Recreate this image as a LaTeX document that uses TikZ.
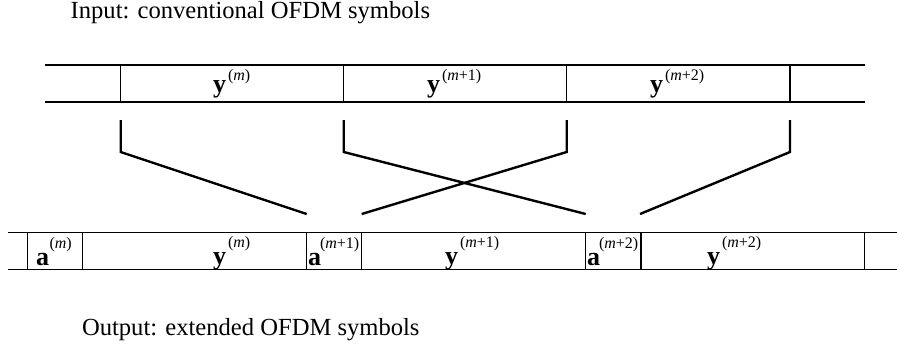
\documentclass[tikz,border=0pt]{standalone}
\usepackage{fontspec}
\setmainfont{Liberation Serif}
\newcommand{\mainfs}{\fontsize{24.6pt}{28pt}\selectfont}
\newcommand{\symlbl}[4]{{\fontsize{26pt}{28pt}\selectfont\bfseries #1}\hspace{#3}\raisebox{#4}{\fontsize{16pt}{18pt}\selectfont #2}}
\tikzset{
  rowline/.style={line width=1.6pt},
  divider/.style={line width=1.3pt},
  conn/.style={line width=2.4pt, line cap=butt, line join=miter},
  lbl/.style={anchor=base west, inner sep=0pt, outer sep=0pt},
  title/.style={anchor=base west, inner sep=0pt, outer sep=0pt, font=\mainfs}
}
\begin{document}
\begin{tikzpicture}[x=1pt,y=-1pt]
\useasboundingbox (0,0) rectangle (897,348);
% titles
\node[title] (intitle) at (70.7,18.5) {Input: conventional OFDM symbols};
\node[title] (outtitle) at (82,335) {Output: extended OFDM symbols};
% top row
\coordinate (tl) at (45,64.7);
\coordinate (tr) at (865,64.7);
\coordinate (bl) at (45,102);
\coordinate (br) at (865,102);
\draw[rowline] (tl) -- (tr);
\draw[rowline] (bl) -- (br);
\foreach \x/\n in {120.7/1,343.7/2,566.7/3,790/4}{
  \coordinate (td\n a) at (\x,64.7);
  \coordinate (td\n b) at (\x,102);
  \draw[divider] (td\n a) -- (td\n b);
}
\node[lbl] (ty0) at (213,92) {\symlbl{y}{(\textit{m})}{2pt}{11.5pt}};
\node[lbl] (ty1) at (427,92) {\symlbl{y}{(\textit{m}+1)}{2pt}{11.5pt}};
\node[lbl] (ty2) at (650,92) {\symlbl{y}{(\textit{m}+2)}{2pt}{11.5pt}};
% bottom row
\coordinate (Btl) at (8,232.3);
\coordinate (Btr) at (897,232.3);
\coordinate (Bbl) at (8,269.3);
\coordinate (Bbr) at (897,269.3);
\draw[rowline] (Btl) -- (Btr);
\draw[rowline] (Bbl) -- (Bbr);
\foreach \x/\n in {27.7/1,82.7/2,306.7/3,361.7/4,585.7/5,641/6,864.3/7}{
  \coordinate (bd\n a) at (\x,232.3);
  \coordinate (bd\n b) at (\x,269.3);
  \draw[divider] (bd\n a) -- (bd\n b);
}
\node[lbl] (ba0) at (36,265) {\symlbl{a}{(\textit{m})}{0.5pt}{17pt}};
\node[lbl] (by0) at (213,264) {\symlbl{y}{(\textit{m})}{2pt}{17pt}};
\node[lbl] (ba1) at (308,265) {\symlbl{a}{(\textit{m}+1)}{-1pt}{17pt}};
\node[lbl] (by1) at (445,264) {\symlbl{y}{(\textit{m}+1)}{2pt}{17pt}};
\node[lbl] (ba2) at (587,265) {\symlbl{a}{(\textit{m}+2)}{-1pt}{17pt}};
\node[lbl] (by2) at (707,264) {\symlbl{y}{(\textit{m}+2)}{2pt}{17pt}};
% connectors
\coordinate (c1s) at (120.7,120);   \coordinate (c1k) at (120.7,152); \coordinate (c1e) at (306.7,214);
\coordinate (c2s) at (343.7,120);   \coordinate (c2k) at (343.7,152); \coordinate (c2e) at (585.7,214);
\coordinate (c3s) at (566.7,120);   \coordinate (c3k) at (566.7,152); \coordinate (c3e) at (361.7,214);
\coordinate (c4s) at (790,120);     \coordinate (c4k) at (790,152);   \coordinate (c4e) at (640,214);
\draw[conn] (c1s) -- (c1k) -- (c1e);
\draw[conn] (c2s) -- (c2k) -- (c2e);
\draw[conn] (c3s) -- (c3k) -- (c3e);
\draw[conn] (c4s) -- (c4k) -- (c4e);
\end{tikzpicture}
\end{document}
